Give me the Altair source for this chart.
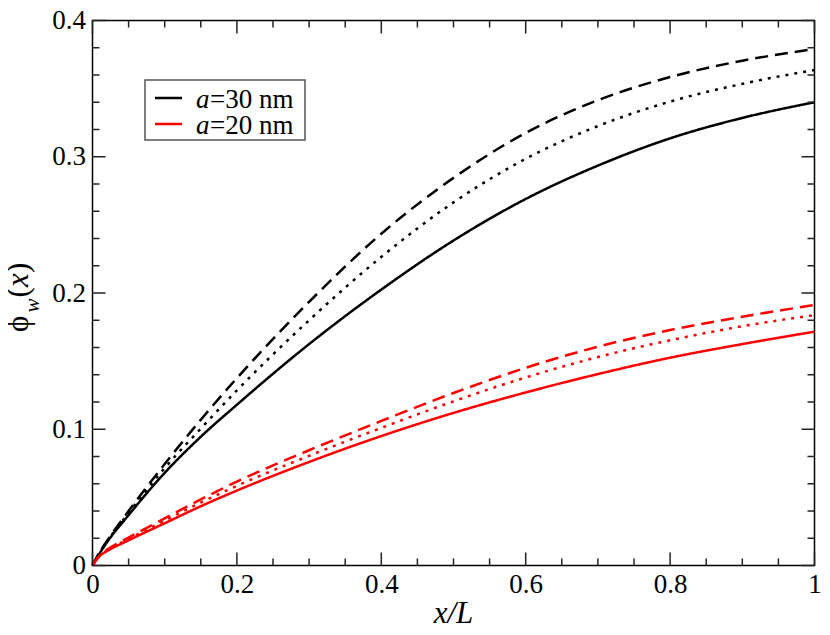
import altair as alt
import pandas as pd

# ---------------- data ----------------
xs = [0, 0.01, 0.02, 0.05, 0.1, 0.15, 0.2, 0.3, 0.4, 0.5, 0.6, 0.7, 0.8, 0.9, 1.0]

a30_solid = [0, 0.009, 0.017, 0.037, 0.068, 0.0945, 0.118, 0.1625, 0.2025, 0.2385, 0.269, 0.2935, 0.3135, 0.3285, 0.340]
a30_dashed = [0, 0.010, 0.018, 0.040, 0.0745, 0.107, 0.1375, 0.1935, 0.2435, 0.2845, 0.3175, 0.3415, 0.3585, 0.3705, 0.379]
a30_dotted = [0, 0.0095, 0.0175, 0.0385, 0.0715, 0.1005, 0.1285, 0.180, 0.2265, 0.2665, 0.2985, 0.3225, 0.3405, 0.3535, 0.3637]

a20_solid = [0, 0.007, 0.0105, 0.0185, 0.031, 0.0435, 0.055, 0.076, 0.095, 0.112, 0.127, 0.1405, 0.1525, 0.1625, 0.1716]
a20_dashed = [0, 0.0075, 0.0115, 0.0205, 0.0346, 0.0485, 0.0616, 0.0846, 0.1061, 0.1266, 0.1451, 0.1606, 0.1728, 0.1826, 0.1912]
a20_dotted = [0, 0.0072, 0.011, 0.0195, 0.033, 0.0462, 0.0585, 0.0805, 0.101, 0.1205, 0.138, 0.153, 0.1653, 0.1756, 0.1838]

series_names = ["30", "20"]
legend_texts = ["=30 nm", "=20 nm"]
colors = ["black", "#ff0000"]

x_major = [0, 0.2, 0.4, 0.6, 0.8, 1.0]
x_minor = [0.05, 0.1, 0.15, 0.25, 0.3, 0.35, 0.45, 0.5, 0.55, 0.65, 0.7, 0.75, 0.85, 0.9, 0.95]
y_major = [0, 0.1, 0.2, 0.3, 0.4]
y_minor = [0.02, 0.04, 0.06, 0.08, 0.12, 0.14, 0.16, 0.18, 0.22, 0.24, 0.26, 0.28, 0.32, 0.34, 0.36, 0.38]

# ---------------- build table ----------------
rows = []
for name, style, ys in [
    ("30", "solid", a30_solid), ("30", "dashed", a30_dashed), ("30", "dotted", a30_dotted),
    ("20", "solid", a20_solid), ("20", "dashed", a20_dashed), ("20", "dotted", a20_dotted),
]:
    for xv, yv in zip(xs, ys):
        rows.append({"x": xv, "phi": yv, "a": name, "style": style, "key": name + style})
df = pd.DataFrame(rows)

W, H = 722, 545
FONT = "Liberation Serif, 'Times New Roman', Times, serif"

xscale = alt.Scale(domain=[0, 1], nice=False, zero=False)
yscale = alt.Scale(domain=[0, 0.4], nice=False, zero=False)

xaxis = alt.Axis(values=x_major, format="~g", ticks=False, tickSize=0, domain=False, grid=False,
                 labelFont=FONT, labelFontSize=27, labelColor="black", labelPadding=6,
                 labelFlush=False, labelOverlap=False, title=None)
yaxis = alt.Axis(values=y_major, format="~g", ticks=False, tickSize=0, domain=False, grid=False,
                 labelFont=FONT, labelFontSize=27, labelColor="black", labelPadding=7,
                 labelFlush=False, labelOverlap=False, title=None)

curves = alt.Chart(df).mark_line(strokeWidth=2.5, interpolate="monotone").encode(
    x=alt.X("x:Q", scale=xscale, axis=xaxis, title=None),
    y=alt.Y("phi:Q", scale=yscale, axis=yaxis, title=None),
    color=alt.Color("a:N", scale=alt.Scale(domain=series_names, range=colors), legend=None),
    strokeDash=alt.StrokeDash("style:N", scale=alt.Scale(domain=["solid", "dashed", "dotted"],
                                                        range=[[1, 0], [13, 7], [3, 6]]), legend=None),
    detail="key:N",
)

tick_col = "#222222"
def xticks(vals, length):
    d = pd.DataFrame({"x": vals})
    enc_x = alt.X("x:Q", scale=xscale, axis=xaxis, title=None)
    bottom = alt.Chart(d).mark_rule(color=tick_col, strokeWidth=1.5).encode(
        x=enc_x, y=alt.value(H), y2=alt.value(H - length))
    top = alt.Chart(d).mark_rule(color=tick_col, strokeWidth=1.5).encode(
        x=enc_x, y=alt.value(0), y2=alt.value(length))
    return [bottom, top]

def yticks(vals, length):
    d = pd.DataFrame({"phi": vals})
    enc_y = alt.Y("phi:Q", scale=yscale, axis=yaxis, title=None)
    left = alt.Chart(d).mark_rule(color=tick_col, strokeWidth=1.5).encode(
        y=enc_y, x=alt.value(0), x2=alt.value(length))
    right = alt.Chart(d).mark_rule(color=tick_col, strokeWidth=1.5).encode(
        y=enc_y, x=alt.value(W), x2=alt.value(W - length))
    return [left, right]

ticks = xticks(x_major, 13) + xticks(x_minor, 7) + yticks(y_major, 13) + yticks(y_minor, 7)

def txt(s, x, y, size, italic=False, angle=0, align="left", baseline="alphabetic"):
    kw = dict(font=FONT, fontSize=size, color="black", align=align, baseline=baseline)
    if italic:
        kw["fontStyle"] = "italic"
    if angle:
        kw["angle"] = angle
    return alt.Chart(pd.DataFrame({"t": [s]})).mark_text(**kw).encode(
        text="t:N", x=alt.value(x), y=alt.value(y))

# axis titles
x_title = txt("x/L", 361, 602, 31, italic=True, align="center")
y_title = [
    txt("\u03d5", -65, 311.5, 31, angle=270),
    txt("w", -53.5, 292, 21, italic=True, angle=270),
    txt("(", -65, 277, 31, angle=270),
    txt("x", -65, 266.5, 31, italic=True, angle=270),
    txt(")", -65, 252.5, 31, angle=270),
]

# legend
box = alt.Chart(pd.DataFrame({"t": [0]})).mark_rect(fillOpacity=0, stroke="#555555", strokeWidth=1.5).encode(
    x=alt.value(52.5), x2=alt.value(212.5), y=alt.value(59.5), y2=alt.value(119.5))
legend_layers = [box]
for i, (lt, col) in enumerate(zip(legend_texts, colors)):
    yy = 77.5 + 26 * i
    legend_layers.append(
        alt.Chart(pd.DataFrame({"t": [lt]})).mark_rule(color=col, strokeWidth=2.5).encode(
            x=alt.value(62.5), x2=alt.value(89.5), y=alt.value(yy)))
    legend_layers.append(txt("a", 103.5, yy + 10, 27, italic=True))
    legend_layers.append(txt(lt, 117.5, yy + 10, 27))

chart = alt.layer(curves, *ticks, x_title, *y_title, *legend_layers).properties(
    width=W, height=H,
    padding={"left": 84.5, "top": 12.5, "right": 7, "bottom": 61},
    autosize=alt.AutoSizeParams(type="none"),
).configure_view(stroke="black", strokeWidth=1.5)

chart.save("out.html", embed_options={"renderer": "svg", "actions": False})
